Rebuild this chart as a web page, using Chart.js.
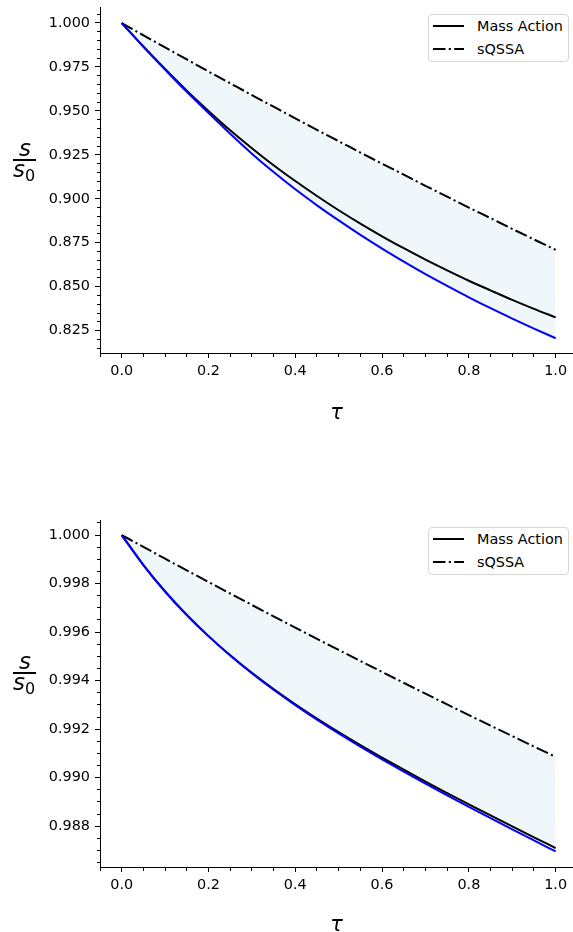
<!DOCTYPE html>
<html>
<head>
<meta charset="utf-8">
<title>s/s0 versus tau</title>
<script src="https://cdn.jsdelivr.net/npm/chart.js@4.4.1/dist/chart.umd.min.js"></script>
<style>
  html, body { margin:0; padding:0; background:#fff; }
  body { position:relative; width:573px; height:932px; overflow:hidden; font-family:'DejaVu Sans', sans-serif; }
  canvas { position:absolute; left:0; }
  #c1 { top:0; }
  #c2 { top:466px; }
  .frac { position:absolute; font-family:'DejaVu Sans'; font-style:italic; font-size:23px; color:#000; line-height:23px; white-space:nowrap; }
  .frac sub { font-size:16px; font-style:normal; vertical-align:-4px; line-height:0; }
  .fracbar { position:absolute; height:2px; background:#000; }
  .legend { position:absolute; box-sizing:border-box; width:141px; height:48px; border:1px solid #d6d6d6; border-radius:4px; background:#fff; }
  .legend svg { position:absolute; }
  .legend span { position:absolute; font-family:'DejaVu Sans'; font-size:14.4px; line-height:16px; color:#000; white-space:nowrap; }
</style>
</head>
<body>
<canvas id="c1" width="573" height="466"></canvas>
<canvas id="c2" width="573" height="466"></canvas>

<div class="frac" style="left:19px; top:137px;">s</div>
<div class="fracbar" style="left:13px; top:159px; width:23px;"></div>
<div class="frac" style="left:13px; top:158px;">s<sub>0</sub></div>

<div class="frac" style="left:19px; top:650px;">s</div>
<div class="fracbar" style="left:13px; top:672px; width:23px;"></div>
<div class="frac" style="left:13px; top:671px;">s<sub>0</sub></div>

<script>
// ---- data ----
const tau = [0, 0.05, 0.1, 0.15, 0.2, 0.25, 0.3, 0.35, 0.4, 0.45, 0.5,
             0.55, 0.6, 0.65, 0.7, 0.75, 0.8, 0.85, 0.9, 0.95, 1.0];

const topMassAction = [1.0, 0.9866, 0.9738, 0.9615, 0.9500, 0.9390, 0.9288, 0.9191, 0.9101, 0.9016, 0.8935,
                       0.8859, 0.8787, 0.8719, 0.8654, 0.8593, 0.8534, 0.8479, 0.8425, 0.8374, 0.8326];
const topSQSSA      = [1.0, 0.9930, 0.9861, 0.9793, 0.9724, 0.9657, 0.9590, 0.9524, 0.9458, 0.9392, 0.9328,
                       0.9263, 0.9200, 0.9137, 0.9074, 0.9012, 0.8950, 0.8890, 0.8829, 0.8769, 0.8710];
const topApprox     = [1.0, 0.9865, 0.9735, 0.9608, 0.9488, 0.9370, 0.9257, 0.9152, 0.9054, 0.8963, 0.8877,
                       0.8795, 0.8717, 0.8643, 0.8572, 0.8505, 0.8440, 0.8378, 0.8319, 0.8262, 0.8207];

const bottomMassAction = [1.0, 0.998764, 0.997674, 0.996705, 0.995835, 0.995045, 0.994321, 0.993652, 0.993027, 0.992438, 0.991878,
                          0.991343, 0.990828, 0.990329, 0.989843, 0.989369, 0.988903, 0.988445, 0.987992, 0.987545, 0.987102];
const bottomSQSSA      = [1.0, 0.999512, 0.999027, 0.998545, 0.998066, 0.997591, 0.997119, 0.996651, 0.996186, 0.995724, 0.995265,
                          0.994810, 0.994358, 0.993909, 0.993463, 0.993021, 0.992582, 0.992147, 0.991715, 0.991286, 0.990860];
const bottomApprox     = [1.0, 0.998764, 0.997674, 0.996705, 0.995835, 0.995036, 0.994304, 0.993626, 0.992992, 0.992394, 0.991826,
                          0.991282, 0.990758, 0.990250, 0.989756, 0.989273, 0.988798, 0.988331, 0.987870, 0.987414, 0.986962];

const seriesNames = ['Mass Action', 'sQSSA'];
const xTickLabels = ['0.0', '0.2', '0.4', '0.6', '0.8', '1.0'];
const topYTickLabels = ['0.825', '0.850', '0.875', '0.900', '0.925', '0.950', '0.975', '1.000'];
const bottomYTickLabels = ['0.988', '0.990', '0.992', '0.994', '0.996', '0.998', '1.000'];

// ---- rendering ----
const FONT = 'DejaVu Sans';
const TICK_SIZE = 14.4;
const DASHDOT = [12.5, 3.3, 2.1, 3.3];
Chart.defaults.font.family = FONT;
Chart.defaults.color = '#000';

function pts(ys) { return tau.map((t, i) => ({ x: t, y: ys[i] })); }
function stepTicks(min, max, step) {
  const out = [];
  const a = Math.ceil(min / step - 1e-9), b = Math.floor(max / step + 1e-9);
  for (let k = a; k <= b; k++) out.push({ value: +(k * step).toFixed(7) });
  return out;
}
function findLabel(v, labels) {
  for (const l of labels) if (Math.abs(parseFloat(l) - v) < 1e-7) return l;
  return null;
}
const tickVal = c => (c && c.tick) ? c.tick.value : null;

function makeChart(id, cfg) {
  const majX = c => { const v = tickVal(c); return v === null || findLabel(v, xTickLabels) !== null; };
  const majY = c => { const v = tickVal(c); return v === null || findLabel(v, cfg.yLabels) !== null; };
  return new Chart(document.getElementById(id), {
    type: 'line',
    data: {
      datasets: [
        { label: 'approximation', data: pts(cfg.approx), borderColor: '#0000ff', borderWidth: 2,
          fill: 2, backgroundColor: 'rgba(173,216,230,0.2)', order: 0 },
        { label: seriesNames[0], data: pts(cfg.mass), borderColor: '#000000', borderWidth: 2,
          fill: false, order: 1 },
        { label: seriesNames[1], data: pts(cfg.sqssa), borderColor: '#000000', borderWidth: 2,
          borderDash: DASHDOT, fill: false, order: 2 }
      ]
    },
    options: {
      responsive: false, animation: false, devicePixelRatio: 1,
      layout: { padding: { top: cfg.padTop, left: 0, right: 0, bottom: 0 } },
      elements: { point: { radius: 0 }, line: { cubicInterpolationMode: 'monotone', borderCapStyle: 'butt' } },
      plugins: { legend: { display: false }, tooltip: { enabled: false }, filler: { drawTime: 'beforeDatasetsDraw' } },
      scales: {
        x: {
          type: 'linear', min: -0.05, max: 1.04, bounds: 'data',
          afterBuildTicks: s => { s.ticks = stepTicks(-0.05, 1.04, 0.05); },
          afterFit: s => { s.height = cfg.xHeight; },
          ticks: { autoSkip: false, maxRotation: 0, minRotation: 0, padding: 5, color: '#000',
                   font: c => ({ family: FONT, size: majX(c) ? TICK_SIZE : 1 }),
                   callback: v => findLabel(v, xTickLabels) ?? '' },
          grid: { drawOnChartArea: false, drawTicks: true, tickLength: 5, tickWidth: 1, tickColor: '#000',
                  tickBorderDash: c => majX(c) ? [] : [3, 50] },
          border: { display: true, color: '#000', width: 1 },
          title: { display: true, text: 'τ', color: '#000',
                   font: { family: FONT, style: 'italic', size: 21, lineHeight: 0.62 },
                   padding: { top: 0, bottom: cfg.titlePad } }
        },
        y: {
          type: 'linear', min: cfg.yMin, max: cfg.yMax, bounds: 'data',
          afterBuildTicks: s => { s.ticks = stepTicks(cfg.yMin, cfg.yMax, cfg.yStep); },
          afterFit: s => { s.width = 100; },
          ticks: { autoSkip: false, padding: 5, color: '#000',
                   font: c => ({ family: FONT, size: majY(c) ? TICK_SIZE : 1 }),
                   callback: v => findLabel(v, cfg.yLabels) ?? '' },
          grid: { drawOnChartArea: false, drawTicks: true, tickLength: 5, tickWidth: 1, tickColor: '#000',
                  tickBorderDash: c => majY(c) ? [] : [0, 2, 3, 50] },
          border: { display: true, color: '#000', width: 1 }
        }
      }
    }
  });
}

function addLegend(chart, top) {
  const box = document.createElement('div');
  box.className = 'legend';
  box.style.left = '428px';
  box.style.top = top + 'px';
  const items = chart.data.datasets.filter(d => seriesNames.includes(d.label))
    .sort((a, b) => seriesNames.indexOf(a.label) - seriesNames.indexOf(b.label));
  items.forEach((d, i) => {
    const cy = 11 + i * 23;
    const ns = 'http://www.w3.org/2000/svg';
    const svg = document.createElementNS(ns, 'svg');
    svg.setAttribute('width', '31'); svg.setAttribute('height', '6');
    svg.style.left = '4px'; svg.style.top = (cy - 3) + 'px';
    const ln = document.createElementNS(ns, 'line');
    ln.setAttribute('x1', '0'); ln.setAttribute('y1', '3'); ln.setAttribute('x2', '31'); ln.setAttribute('y2', '3');
    ln.setAttribute('stroke', d.borderColor); ln.setAttribute('stroke-width', '2');
    if (d.borderDash) ln.setAttribute('stroke-dasharray', d.borderDash.join(' '));
    svg.appendChild(ln);
    box.appendChild(svg);
    const sp = document.createElement('span');
    sp.textContent = d.label;
    sp.style.left = '48px'; sp.style.top = (cy - 8) + 'px';
    box.appendChild(sp);
  });
  document.body.appendChild(box);
}

const chartTop = makeChart('c1', {
  mass: topMassAction, sqssa: topSQSSA, approx: topApprox,
  yMin: 0.8123, yMax: 1.0091, yStep: 0.005, yLabels: topYTickLabels,
  padTop: 7, xHeight: 113, titlePad: 46
});
const chartBottom = makeChart('c2', {
  mass: bottomMassAction, sqssa: bottomSQSSA, approx: bottomApprox,
  yMin: 0.98632, yMax: 1.00062, yStep: 0.0005, yLabels: bottomYTickLabels,
  padTop: 54, xHeight: 65, titlePad: 0
});
addLegend(chartTop, 14);
addLegend(chartBottom, 527);
</script>
</body>
</html>
